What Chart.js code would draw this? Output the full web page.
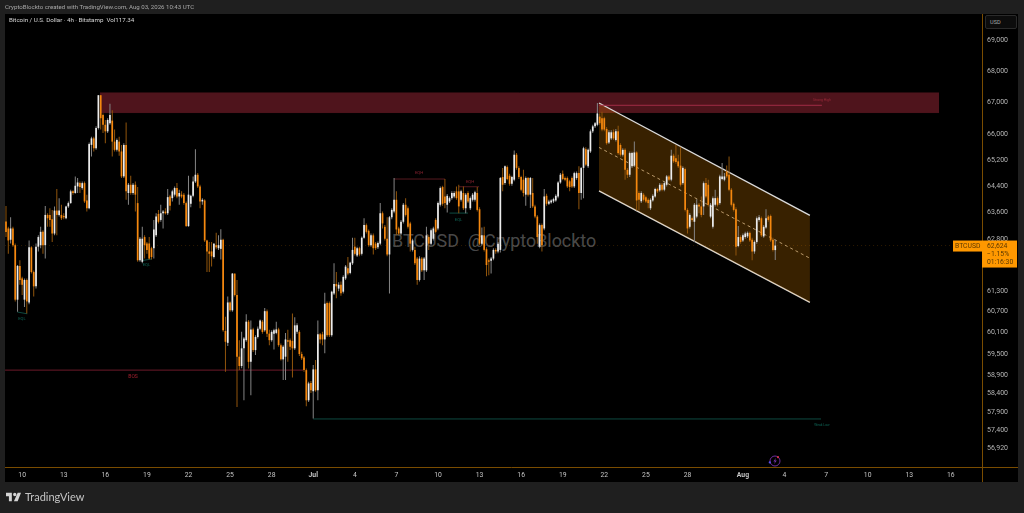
<!DOCTYPE html>
<html>
<head>
<meta charset="utf-8">
<title>BTCUSD 4h</title>
<script src="https://cdn.jsdelivr.net/npm/chart.js@4"></script>
<style>
  html, body { margin: 0; padding: 0; width: 1024px; height: 513px; overflow: hidden; background: #1f1f1f; font-family: Roboto, sans-serif; }
  .panel { position: absolute; left: 5px; top: 14px; width: 1013px; height: 468px; background: #000; }
  #chart { position: absolute; left: 0; top: 0; }
  .credit { position: absolute; left: 5px; top: 3px; font-size: 6.1px; line-height: 8px; color: #a8a8a8; white-space: nowrap; }
  .title { position: absolute; left: 9px; top: 16px; font-size: 6.2px; line-height: 8px; color: #d8d8d8; white-space: nowrap; }
  .mark { position: absolute; left: 392px; top: 230px; font-size: 17.9px; line-height: 22px; color: rgba(255,255,255,0.3); white-space: pre; }
  .usd { position: absolute; left: 985px; top: 15px; width: 32px; height: 14px; box-sizing: border-box; border: 1px solid #2a2a2a; border-radius: 2px; background: #0c0c0c; color: #a8a8a8; font-size: 5.6px; line-height: 12px; padding-left: 4px; }
  .brand { position: absolute; left: 25px; top: 489px; font-size: 11px; line-height: 16px; color: #c4c4c4; font-family: Lato, sans-serif; }
  .logo { position: absolute; left: 6px; top: 492px; }
  .spark { position: absolute; left: 767px; top: 453px; }
</style>
</head>
<body>
<div class="panel"></div>
<div class="mark">BTCUSD  @CryptoBlockto</div>
<canvas id="chart" width="1024" height="513"></canvas>
<div class="credit">CryptoBlockto created with TradingView.com, Aug 03, 2026 10:43 UTC</div>
<div class="title">Bitcoin / U.S. Dollar · 4h · Bitstamp &nbsp;Vol117.34</div>
<div class="usd">USD</div>
<svg class="spark" width="16" height="16" viewBox="0 0 16 16">
  <circle cx="8" cy="8" r="5" fill="none" stroke="#6f2c9c" stroke-width="1"/>
  <path d="M9 4.8 6.4 8.4h1.7L7 11.2l2.8-3.7H8.1z" fill="#7a35b0"/>
  <circle cx="11" cy="4.2" r="1.1" fill="#d8324a"/>
  <circle cx="2.8" cy="9.4" r="1.1" fill="#5a4ff0"/>
</svg>
<svg class="logo" width="15" height="10" viewBox="0 0 36 24"><path fill="#d4d4d4" d="M14 2H0v8h7v12h7V2Zm14 20h-9L28 2h8l-8 20ZM21 10a4 4 0 1 0 0-8 4 4 0 0 0 0 8Z"/></svg>
<div class="brand">TradingView</div>

<script>
// Candle data, one row per 10 candles, 4h bars
const opens = [
  63335,63130,62795,63130,62635,61045,62025,61660,61045,61615,
  60965,62570,61845,61430,62590,62635,63030,62635,63535,63535,
  63405,62980,63665,63535,63535,63505,63435,63790,63890,64245,
  64195,64395,64495,64345,64495,63970,63735,65670,65870,65565,
  66195,67225,66600,66295,66090,66345,66425,65770,65515,65770,
  65465,64700,65665,64195,64445,64195,64445,63890,62190,62145,
  62875,62685,62685,62545,62545,62925,63565,63385,63585,63635,
  63585,64090,64040,64145,64345,64090,64145,64145,63890,63200,
  63870,64110,64545,64750,64395,63940,63970,62775,62450,62450,
  62285,62635,62545,62525,62795,60150,59815,60965,60740,61800,
  61180,59425,59165,59660,59890,60415,59280,60195,59610,59980,
  60215,60415,60170,60715,60075,59890,60075,60095,60195,59750,
  59350,59425,59890,59890,59870,59660,60125,60125,59500,59405,
  59050,58215,58695,58465,59070,58490,60055,60055,59910,60950,
  60945,60030,61225,61500,61365,61475,61275,61660,61960,61820,
  62100,62590,62330,62545,62380,62855,63230,63060,62635,62925,
  62680,62570,62680,63585,63180,62825,62360,63465,63635,63990,
  63130,62980,63330,63840,63735,63280,62495,62495,62240,61615,
  62240,61895,61895,62875,62680,62825,63385,63130,63840,64375,
  64090,63840,63940,64040,64090,64245,64245,63990,64195,63735,
  64195,63735,63990,63990,64195,63705,62680,62925,62515,62190,
  62175,62240,62495,62450,62495,64680,64495,64985,64720,64475,
  64600,65365,64955,64680,64600,64145,64650,64145,64195,63790,
  63485,62590,63230,63130,64110,63870,63910,63940,63970,64090,
  64515,64780,64650,64650,64550,64650,64395,64650,64800,64195,
  64960,65535,65010,65465,66090,66245,66295,66550,66500,66500,
  66165,65740,65870,66060,65820,66090,65665,65365,65515,64900,
  64750,65010,65030,65435,64195,63945,64145,64070,63990,63735,
  63970,64090,64315,64275,64445,64295,64445,64700,64600,65335,
  65260,65160,65030,64495,64925,63685,63180,63435,63330,63485,
  63840,63790,63790,64495,64445,63485,63180,63840,64040,63890,
  64620,64600,64850,64750,64295,63870,63705,62610,62875,62775,
  62875,62895,63000,62795,62450,62730,63385,63435,62895,63160,
  63485,63505,62795,62490
];
const highs = [
  63805,63180,63465,63185,62685,62055,62190,61710,61660,61660,
  62775,62605,61890,62685,62925,63180,63080,63805,63585,63735,
  63685,63790,64315,64040,63840,63585,63810,63940,64295,64275,
  64700,64650,64545,64545,64545,64140,65740,65920,65920,66245,
  67230,67230,66650,66445,66500,66955,66750,66145,65870,65920,
  65665,65720,66365,64495,64720,64495,64545,64375,62875,63180,
  62925,62730,62875,62585,63385,63585,63685,63840,63685,63735,
  64315,64140,64295,64395,64495,64295,64245,64195,63940,64720,
  64140,64700,65535,64800,64445,64040,64010,62795,62730,62730,
  62700,63000,62925,63110,62825,60555,61135,60995,61820,61800,
  61615,59890,60125,59980,60630,60465,60445,60245,60030,60275,
  60480,60465,60805,60760,60185,60170,60215,60415,60245,59795,
  59750,60095,60185,59935,60650,60540,60370,60170,59565,59445,
  59095,58730,58750,59190,59330,60445,60095,60125,61245,60995,
  60995,61305,62100,61845,61550,61570,61750,62050,62285,62145,
  62855,62855,62590,62590,62895,63435,63280,63100,62980,62980,
  62730,62745,63890,63635,63230,63465,63505,63735,64650,64245,
  63180,63385,63890,64040,63790,63330,62825,62590,62285,62305,
  62285,62285,63180,62925,63130,63180,63435,63940,64395,64415,
  64620,64165,64090,64245,64245,64395,64445,64295,64395,64195,
  64245,64090,64195,64265,64375,63765,63160,63180,62570,62240,
  62285,62545,62545,62730,64680,64955,65030,65030,64780,64720,
  65495,65415,65010,64720,64900,64700,64680,64680,64650,63840,
  63535,63280,63280,64315,64175,63990,64010,64050,64155,64555,
  64800,64880,64700,64700,64600,64700,64840,64850,65010,64990,
  65615,65595,65555,66145,66295,66385,66980,66650,66700,66550,
  66225,66125,66125,66145,66165,66265,65720,65565,65565,64960,
  65465,65455,65770,65475,64245,64245,64195,64110,64040,64040,
  64155,64355,64355,64495,64495,64550,64740,64740,65515,65395,
  65665,65365,65615,65010,64970,63735,63585,63485,63890,64010,
  63890,64090,64545,64650,64600,63890,64090,64295,64090,64750,
  65110,64800,65030,65310,64345,63910,63765,63200,62925,62980,
  63030,63040,63040,62855,62775,63485,63535,63485,63230,63705,
  63535,63545,62855,62800
];
const lows = [
  62875,62380,62685,62585,60995,60695,61475,61180,60835,60650,
  60910,61800,61135,61365,62450,62545,62380,62240,63180,63180,
  62730,62925,62925,63485,63385,63405,63405,63740,63870,64145,
  64175,64195,64195,64295,63890,63635,63705,65310,65465,65515,
  66145,66145,66040,65720,66040,66295,65310,65465,65465,65330,
  64650,64650,63990,63840,64145,64145,63635,62145,62145,62100,
  62240,62380,62210,62210,62240,62875,63280,63330,63130,63545,
  63535,63665,63940,64090,64040,63840,64040,63840,63180,63180,
  63765,64070,64495,64345,63735,63840,62730,61845,61845,62005,
  62240,62515,62495,62210,60125,59005,59725,60695,60695,61135,
  58030,59050,59100,58215,59845,59095,58355,59560,59470,59935,
  60170,60075,60125,59980,59750,59845,59630,60055,59705,59315,
  58775,58775,59285,59610,58845,59610,60075,59445,59330,59005,
  58050,58170,58415,57720,58450,58215,59795,59750,59520,59980,
  59980,59985,61180,61085,61285,61155,61225,61615,61750,61780,
  62050,62330,62285,62305,62330,62825,62980,62590,62590,62360,
  62495,62525,62635,63130,62775,62305,61225,63405,63585,62925,
  62925,62925,63280,63485,63130,62450,62450,62050,61475,61570,
  61845,61615,61845,62495,62635,62775,62980,63080,63790,63810,
  63735,63610,63890,63990,64040,63990,63585,63940,63685,63585,
  63890,63685,63940,63940,63635,62635,62635,62450,61725,61750,
  61800,62190,62380,62395,62420,64245,64445,64580,64415,64415,
  64550,64905,64620,64245,64090,63810,64090,63740,63740,63435,
  62680,62545,62450,63080,63810,63830,63870,63890,63930,64040,
  64475,64580,64550,64345,64245,64345,64345,64600,63705,63990,
  64040,65010,64960,65415,66040,66195,66245,66295,66090,66090,
  65670,65700,65820,65820,65770,65365,65310,65310,64600,64650,
  64680,64960,64990,63665,63665,63890,63940,63890,63735,63685,
  63930,64050,64195,64235,64245,64245,64395,64550,64550,65110,
  65090,64960,64395,64445,63635,62980,63130,63330,62730,63435,
  63585,63465,63535,64040,63790,63435,63130,63790,63790,63840,
  64580,64550,64650,64245,63790,63635,62330,62570,62680,62730,
  62825,62850,62730,62190,62380,62680,63330,62875,62855,63120,
  63330,62730,62450,62200
];
const closes = [
  63025,62775,63130,62635,61045,62025,61615,61475,61615,60995,
  62570,61845,61430,62590,62875,63030,62635,63535,63435,63385,
  62980,63665,63535,63665,63435,63465,63790,63890,64245,64195,
  64415,64515,64375,64495,63940,63735,65695,65870,65565,66195,
  67225,66500,66295,66090,66445,66600,65770,65515,65820,65465,
  64700,65665,64245,64445,64195,64445,64145,62190,62825,62825,
  62635,62495,62240,62285,63100,63485,63330,63585,63635,63585,
  64070,63810,64245,64345,64090,64195,64090,63890,63200,64145,
  64110,64545,64750,64395,63940,63990,62775,62450,62380,62305,
  62680,62570,62635,62795,60170,59845,60965,60740,61800,61180,
  59425,59165,59660,59935,60415,59280,60195,59610,59980,60215,
  60445,60120,60715,60075,59890,60125,60170,60195,59750,59350,
  59705,59910,59845,59705,59660,60310,60310,59500,59380,59050,
  58215,58680,58490,59070,58490,60055,59910,59910,60930,60030,
  60030,61275,61500,61430,61475,61230,61705,62005,61800,62120,
  62495,62380,62545,62360,62855,63230,63030,62635,62925,62545,
  62545,62700,63585,63280,62825,62360,63465,63685,63990,63100,
  62980,63330,63840,63535,63180,62680,62775,62100,61615,62240,
  61895,62240,62925,62680,63080,63130,63030,63890,64345,63870,
  63890,64110,64040,64195,64195,64040,63790,64245,63735,64145,
  63940,64040,64145,64215,63685,62680,62925,62495,62050,62145,
  62240,62495,62450,62680,64650,64445,65010,64620,64475,64680,
  65365,64960,64680,64295,64195,64650,64145,64650,63790,63485,
  62875,63230,62635,64090,63870,63940,63970,64010,64110,64515,
  64750,64620,64600,64395,64375,64395,64800,64800,64195,64955,
  65565,65060,65515,66090,66245,66345,66650,66345,66145,66145,
  65720,66060,66060,65870,66090,65415,65365,65515,64900,64750,
  65415,65415,65435,63970,63990,64195,63990,63940,63890,63990,
  64110,64315,64245,64445,64295,64495,64700,64600,65335,65160,
  65140,65010,64445,64960,63685,63130,63535,63385,63840,63840,
  63790,63535,64495,64090,63840,63840,64040,64040,63840,64700,
  64700,64700,64700,64295,63840,63685,62590,62875,62730,62925,
  62980,63000,62775,62450,62730,63435,63465,62925,63180,63435,
  63385,62775,62495,62624
];

// Axis ticks
const priceTicks = [69000,68000,67000,66000,65200,64400,63600,62800,61300,60700,60100,59500,58900,58400,57900,57400,56920];
const timeTicks = [7,25,43,61,79,97,115,133,151,169,187,205,223,241,259,277,295,319,337,355,373,391,409];
const timeLabels = ["10","13","16","19","22","25","28","Jul","4","7","10","13","16","19","22","25","28","Aug","4","7","10","13","16"];

// Drawings (candle index, price)
const zoneIndex = [40.7, 403.9];
const zoneHigh = [67296, 67296];
const zoneLow = [66678, 66678];
const channelIndex = [256.7, 348];
const channelUpper = [66980, 63520];
const channelMiddle = [65590, 62250];
const channelLower = [64260, 60966];
const strongHighIndex = [256.7, 353.2];
const strongHigh = [66907, 66907];
const weakLowIndex = [133, 352.8];
const weakLow = [57705, 57705];
const bosIndex = [-0.4, 128.6];
const bosPrice = [59050, 59050];
const eqhIndexA = [168, 190];
const eqhPriceA = [64620, 64620];
const eqhIndexB = [196, 204.8];
const eqhPriceB = [64385, 64385];
const eqlIndexA = [4.9, 9.2];
const eqlPriceA = [60690, 60640];
const eqlIndexB = [58.9, 63.2];
const eqlPriceB = [62180, 62230];
const eqlIndexC = [192, 200];
const eqlPriceC = [63590, 63590];
const lastIndex = [-0.4, 410];
const lastPrice = [62624, 62624];
const labelTexts = ["EQL", "EQL", "EQH", "EQH", "EQL", "BOS", "Strong High", "Weak Low"];
const labelIndex = [6.9, 60.8, 178.8, 200.9, 195.9, 55, 353.2, 353.2];
const labelPrice = [60490, 62040, 64820, 64545, 63384, 58860, 67075, 57540];
const labelColors = ["#0e6455", "#0e6455", "#8a2230", "#8a2230", "#0e6455", "#a3202f", "#9a2a3a", "#0e6455"];

const upColor = "#ececec";
const downColor = "#f5880f";
const upWick = "#858585";
const downWick = "#91550c";
const axisColor = "#7a4c00";

function lineSet(xs, ys, color, extra) {
  return Object.assign({
    type: "line",
    data: xs.map(function (x, i) { return { x: x, y: ys[i] }; }),
    borderColor: color,
    borderWidth: 1,
    pointRadius: 0,
    tension: 0,
    fill: false,
    order: 4
  }, extra);
}

// Axis frame, price tag and small labels
const overlayPlugin = {
  id: "overlay",
  afterDraw: function (chart) {
    const ctx = chart.ctx;
    const area = chart.chartArea;
    const xs = chart.scales.x;
    const ys = chart.scales.y;

    ctx.save();
    ctx.strokeStyle = axisColor;
    ctx.lineWidth = 1;
    ctx.beginPath();
    ctx.moveTo(Math.round(area.right) + 0.5, 14);
    ctx.lineTo(Math.round(area.right) + 0.5, 482);
    ctx.moveTo(5, Math.round(area.bottom) + 0.5);
    ctx.lineTo(1018, Math.round(area.bottom) + 0.5);
    ctx.stroke();

    // structure labels
    ctx.textAlign = "center";
    ctx.textBaseline = "middle";
    labelTexts.forEach(function (text, i) {
      const size = text === "BOS" ? 5 : (text.length > 3 ? 3.4 : 4.2);
      ctx.font = size + "px Roboto";
      ctx.fillStyle = labelColors[i];
      ctx.fillText(text, xs.getPixelForValue(labelIndex[i]), ys.getPixelForValue(labelPrice[i]));
    });

    // last price tag
    const tagY = ys.getPixelForValue(lastPrice[0]);
    ctx.fillStyle = "#ff9800";
    ctx.fillRect(953, tagY - 5, 29, 11);
    ctx.fillRect(982, tagY - 5, 35, 27);
    ctx.fillStyle = "#5a3700";
    ctx.textAlign = "left";
    ctx.font = "6.8px Roboto";
    ctx.fillText("BTCUSD", 955, tagY + 0.5);
    ctx.fillText("62,624", 987, tagY + 0.5);
    ctx.fillText("\u22121.15%", 987, tagY + 8.5);
    ctx.fillText("01:16:30", 987, tagY + 17);
    ctx.restore();
  }
};

const chartCanvas = document.getElementById("chart");
if (chartCanvas) {
  const indexes = closes.map(function (c, i) { return i; });
  const wickData = indexes.map(function (i) { return { x: i, y: [lows[i], highs[i]] }; });
  const bodyData = indexes.map(function (i) { return { x: i, y: [opens[i], closes[i]] }; });
  const wickColors = indexes.map(function (i) { return closes[i] >= opens[i] ? upWick : downWick; });
  const bodyColors = indexes.map(function (i) { return closes[i] >= opens[i] ? upColor : downColor; });

  new Chart(chartCanvas.getContext("2d"), {
    type: "bar",
    data: {
      datasets: [
        // zone, datasets 0 and 1
        lineSet(zoneIndex, zoneHigh, "#4f141c", { fill: { target: 1 }, backgroundColor: "#4f141c", order: 8 }),
        lineSet(zoneIndex, zoneLow, "#4f141c", { order: 8 }),
        // channel, datasets 2 to 4
        lineSet(channelIndex, channelUpper, "#dcdcdc", { borderWidth: 1.3, fill: { target: 4 }, backgroundColor: "rgba(255,152,0,0.22)", order: 7 }),
        lineSet(channelIndex, channelMiddle, "#a89c8a", { borderDash: [3, 3], order: 7 }),
        lineSet(channelIndex, channelLower, "#dcdcdc", { borderWidth: 1.3, order: 7 }),
        lineSet(lastIndex, lastPrice, "rgba(255,152,0,0.18)", { borderDash: [1, 3], order: 7 }),
        lineSet(strongHighIndex, strongHigh, "#a02c45"),
        lineSet(weakLowIndex, weakLow, "#0e4a40"),
        lineSet(bosIndex, bosPrice, "#6d1a2a"),
        lineSet(eqhIndexA, eqhPriceA, "#571a20"),
        lineSet(eqhIndexB, eqhPriceB, "#571a20"),
        lineSet(eqlIndexA, eqlPriceA, "#0e4a40"),
        lineSet(eqlIndexB, eqlPriceB, "#0e4a40"),
        lineSet(eqlIndexC, eqlPriceC, "#0e4a40"),
        // candles
        { data: wickData, backgroundColor: wickColors, barThickness: 1, grouped: false, inflateAmount: 0, order: 3 },
        { data: bodyData, backgroundColor: bodyColors, barThickness: 1.7, grouped: false, inflateAmount: 0, order: 2 }
      ]
    },
    options: {
      responsive: false,
      animation: false,
      devicePixelRatio: 1,
      layout: { padding: { left: 5, top: 14, right: 6, bottom: 31 } },
      plugins: { legend: { display: false }, tooltip: { enabled: false } },
      scales: {
        x: {
          type: "linear",
          offset: false,
          min: -0.43,
          max: 422.5,
          grid: { display: false, drawTicks: false },
          border: { display: false },
          afterBuildTicks: function (scale) {
            scale.ticks = timeTicks.map(function (v) { return { value: v }; });
          },
          afterFit: function (scale) { scale.height = 15; },
          ticks: {
            autoSkip: false,
            maxRotation: 0,
            padding: 4,
            color: "#c4c4c4",
            font: function (c) {
              const isMonth = c.tick && timeLabels[timeTicks.indexOf(c.tick.value)].length === 3;
              return { family: "Roboto", size: 6.8, weight: isMonth ? "bold" : "normal" };
            },
            callback: function (v) { return timeLabels[timeTicks.indexOf(v)]; }
          }
        },
        y: {
          type: "logarithmic",
          position: "right",
          min: 56412,
          max: 69851,
          grid: { display: false, drawTicks: false },
          border: { display: false },
          afterBuildTicks: function (scale) {
            scale.ticks = priceTicks.map(function (v) { return { value: v }; });
          },
          afterFit: function (scale) { scale.width = 36; },
          ticks: {
            autoSkip: false,
            padding: 5,
            color: "#b4b4b4",
            font: { family: "Roboto", size: 7 },
            callback: function (v) { return v.toLocaleString("en-US"); }
          }
        }
      }
    },
    plugins: [overlayPlugin]
  });
}
</script>
</body>
</html>
